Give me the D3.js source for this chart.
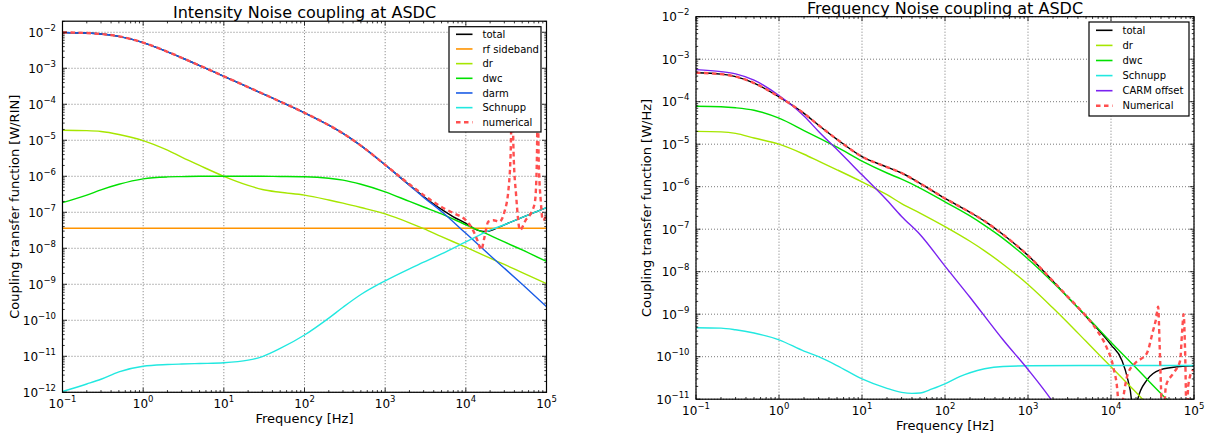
<!DOCTYPE html>
<html>
<head>
<meta charset="utf-8">
<script src="https://cdnjs.cloudflare.com/ajax/libs/d3/7.8.5/d3.min.js"></script>
<style>
body{margin:0;background:#fff;}
svg{display:block;font-family:"DejaVu Sans",sans-serif;}
</style>
</head>
<body>
<svg width="1212" height="440"></svg>
<script>
// shared frequency grid [Hz]
var freq = [0.1,0.2,0.3,0.5,1,2,3,5,10,20,30,50,100,200,300,500,1e3,2e3,3e3,5e3,1e4,2e4,3e4,5e4,1e5];

// ---- Intensity noise coupling [W/RIN]
var intRfFreq = [0.1, 1e5];
var intRf = [3.6e-8, 3.6e-8];
var intDr = [1.9e-5,1.85e-5,1.75e-5,1.45e-5,9.8e-6,5.3e-6,3.4e-6,2.0e-6,1.0e-6,5.6e-7,4.3e-7,3.6e-7,3.0e-7,2.2e-7,1.8e-7,1.36e-7,9e-8,5.1e-8,3.5e-8,2.1e-8,1.07e-8,5.3e-9,3.55e-9,2.1e-9,1.05e-9];
var intDwc = [1.85e-7,3.0e-7,4.2e-7,6.0e-7,8.5e-7,9.6e-7,9.8e-7,1e-6,1e-6,1e-6,1e-6,9.9e-7,9.7e-7,8.8e-7,7.8e-7,6.0e-7,3.7e-7,2.0e-7,1.4e-7,9e-8,4.5e-8,2.3e-8,1.5e-8,9e-9,4.3e-9];
var intDarm = [9.9e-3,9.5e-3,8.95e-3,7.7e-3,5.15e-3,2.87e-3,1.96e-3,1.19e-3,5.98e-4,3.0e-4,1.99e-4,1.19e-4,5.8e-5,2.63e-5,1.55e-5,7.1e-6,2.07e-6,5.6e-7,2.6e-7,1.05e-7,2.6e-8,6.3e-9,2.8e-9,1.0e-9,2.4e-10];
var intSchnupp = [1.05e-12,1.7e-12,2.3e-12,3.7e-12,5.3e-12,5.9e-12,6.1e-12,6.3e-12,6.6e-12,7.8e-12,9.8e-12,1.65e-11,3.9e-11,1.15e-10,2.3e-10,5.2e-10,1.25e-9,2.7e-9,4.1e-9,7.0e-9,1.5e-8,3.2e-8,4.5e-8,7.2e-8,1.35e-7];
var intTotalFreq = [0.1,0.2,0.3,0.5,1,2,3,5,10,20,30,50,100,200,300,500,1e3,2e3,3e3,5e3,7e3,1e4,1.2e4,1.5e4,1.8e4,2.2e4,2.6e4,3e4,5e4,1e5];
var intTotal = [9.9e-3,9.5e-3,8.95e-3,7.7e-3,5.15e-3,2.87e-3,1.96e-3,1.19e-3,5.98e-4,3.0e-4,1.99e-4,1.19e-4,5.8e-5,2.63e-5,1.55e-5,7.1e-6,2.08e-6,5.7e-7,2.75e-7,1.2e-7,7.5e-8,4.9e-8,3.8e-8,3.05e-8,2.95e-8,3.3e-8,3.9e-8,4.5e-8,7.2e-8,1.35e-7];
var intNumFreq = [0.1,0.2,0.3,0.5,1,2,3,5,10,20,30,50,100,200,300,500,1e3,2e3,3e3,5e3,7e3,1e4,1.2e4,1.4e4,1.55e4,1.7e4,1.9e4,2.2e4,2.6e4,3e4,3.4e4,3.6e4,3.75e4,3.9e4,4.2e4,4.7e4,5.5e4,6.5e4,7.2e4,7.6e4,7.8e4,8e4,8.5e4,9e4,1e5];
var intNum = [9.9e-3,9.5e-3,8.95e-3,7.7e-3,5.15e-3,2.87e-3,1.96e-3,1.19e-3,5.98e-4,3.0e-4,1.99e-4,1.19e-4,5.8e-5,2.63e-5,1.55e-5,7.1e-6,2.08e-6,6.0e-7,3.0e-7,1.4e-7,9.5e-8,6e-8,3.5e-8,1.6e-8,9e-9,2e-8,5.5e-8,6e-8,5.5e-8,1e-7,5e-7,5e-6,3e-4,5e-6,3e-7,3.2e-8,6e-8,1e-7,2e-7,3e-6,3e-4,3e-6,2e-7,6e-8,8e-8];

// ---- Frequency noise coupling [W/Hz]
var frqDr = [2.0e-5,1.95e-5,1.8e-5,1.4e-5,1.0e-5,5.8e-6,4.0e-6,2.5e-6,1.3e-6,6.5e-7,4.0e-7,2.4e-7,1.15e-7,5.2e-8,3.1e-8,1.5e-8,5.0e-9,1.4e-9,6.4e-10,2.3e-10,5.8e-11,1.45e-11,6.4e-12,2.3e-12,5.8e-13];
var frqDwc = [7.8e-5,7.6e-5,7.2e-5,6.3e-5,4.1e-5,2.1e-5,1.4e-5,8.5e-6,4.0e-6,2.1e-6,1.5e-6,9.3e-7,4.4e-7,2.05e-7,1.23e-7,6.1e-8,2.0e-8,5.6e-9,2.55e-9,9.2e-10,2.2e-10,5.5e-11,2.4e-11,8.7e-12,2.2e-12];
var frqSchnuppFreq = [0.1,0.2,0.3,0.5,1,2,3,5,10,20,30,40,50,70,100,150,200,300,500,1e3,1e4,1e5];
var frqSchnupp = [4.8e-10,4.7e-10,4.3e-10,3.6e-10,2.5e-10,1.35e-10,1.0e-10,6.2e-11,3.0e-11,1.8e-11,1.45e-11,1.37e-11,1.4e-11,1.75e-11,2.3e-11,3.4e-11,4.2e-11,5.2e-11,5.9e-11,6.1e-11,6.2e-11,6.2e-11];
var frqCarm = [5.7e-4,5.1e-4,4.5e-4,3.2e-4,1.4e-4,4.6e-5,2.0e-5,7.5e-6,1.9e-6,4.8e-7,2.0e-7,7.5e-8,1.35e-8,2.5e-9,9e-10,2.5e-10,5e-11,8.5e-12,2.5e-12,null,null,null,null,null,null];
var frqTotalFreq = [0.1,0.2,0.3,0.5,1,2,3,5,10,20,30,50,100,200,300,500,1e3,2e3,3e3,5e3,1e4,1.35e4,1.6e4,1.76e4,1.9e4,2.1e4,2.7e4,3.9e4,6.8e4,1e5];
var frqTotal = [4.8e-4,4.45e-4,3.9e-4,2.75e-4,1.3e-4,5.3e-5,2.8e-5,1.3e-5,5.1e-6,2.9e-6,2.1e-6,1.2e-6,5.3e-7,2.5e-7,1.55e-7,7.5e-8,2.4e-8,6.0e-9,2.55e-9,8.8e-10,1.9e-10,8.3e-11,2.8e-11,1e-11,1e-13,1e-11,2.8e-11,4.9e-11,5.9e-11,6.1e-11];
var frqNumFreq = [0.1,0.2,0.3,0.5,1,2,3,5,10,20,30,50,100,200,300,500,1e3,2e3,3e3,5e3,7e3,8.8e3,1.07e4,1.2e4,1.28e4,1.4e4,1.6e4,1.95e4,2.7e4,3.2e4,3.5e4,3.7e4,3.85e4,4e4,4.2e4,4.6e4,5.6e4,6.8e4,7.2e4,7.5e4,7.8e4,8.2e4,8.5e4,9.5e4,1e5];
var frqNum = [4.8e-4,4.45e-4,3.9e-4,2.75e-4,1.3e-4,5.3e-5,2.8e-5,1.3e-5,5.1e-6,2.9e-6,2.1e-6,1.2e-6,5.3e-7,2.5e-7,1.55e-7,7.5e-8,2.4e-8,6.0e-9,2.6e-9,9e-10,3.8e-10,1.7e-10,5.5e-11,1.4e-11,2e-12,1e-11,4e-11,7e-11,1.2e-10,4e-10,8e-10,1.5e-9,2e-10,2e-11,2e-12,2.1e-11,4e-11,8e-11,4e-10,1.0e-9,1.5e-10,2e-12,2e-11,4.6e-11,5e-11];

var xTickExp = [-1,0,1,2,3,4,5];

var svg = d3.select('svg');

var intensityPanel = {
	id: 'int',
	left: 62.5, right: 546.5, top: 21.2, bottom: 392.3,
	ydom: [1e-12, 2.03e-2],
	title: 'Intensity Noise coupling at ASDC', titleY: 18.3,
	ylabel: 'Coupling transfer function [W/RIN]', ylabelX: 19,
	legend: {x: 449, y: 26.7, w: 92, h: 105.3, row0: 34.3, step: 14.67},
	series: [
		{label: 'total', color: '#000000', f: intTotalFreq, v: intTotal},
		{label: 'rf sideband', color: '#ff9400', f: intRfFreq, v: intRf},
		{label: 'dr', color: '#a6e600', f: freq, v: intDr},
		{label: 'dwc', color: '#00e000', f: freq, v: intDwc},
		{label: 'darm', color: '#1a5ce6', f: freq, v: intDarm},
		{label: 'Schnupp', color: '#22e8e0', f: freq, v: intSchnupp},
		{label: 'numerical', color: '#ff4f4f', f: intNumFreq, v: intNum, dash: true}
	]
};

var frequencyPanel = {
	id: 'frq',
	left: 696, right: 1194, top: 16.7, bottom: 399.2,
	ydom: [1e-11, 1e-2],
	title: 'Frequency Noise coupling at ASDC', titleY: 14.2,
	ylabel: 'Coupling transfer function [W/Hz]', ylabelX: 650.5,
	legend: {x: 1089, y: 22, w: 100, h: 94, row0: 30.3, step: 15.1},
	series: [
		{label: 'total', color: '#000000', f: frqTotalFreq, v: frqTotal},
		{label: 'dr', color: '#a6e600', f: freq, v: frqDr},
		{label: 'dwc', color: '#00e000', f: freq, v: frqDwc},
		{label: 'Schnupp', color: '#22e8e0', f: frqSchnuppFreq, v: frqSchnupp},
		{label: 'CARM offset', color: '#7a22f0', f: freq, v: frqCarm},
		{label: 'Numerical', color: '#ff4f4f', f: frqNumFreq, v: frqNum, dash: true}
	]
};

function powLabel(sel, k){
	sel.append('tspan').text('10');
	sel.append('tspan').attr('dy', -6).attr('font-size', 8.5).text(k < 0 ? '\u2212' + (-k) : '' + k);
}

function drawPanel(p){
	var g = svg.append('g');
	var x = d3.scaleLog().domain([0.1, 1e5]).range([p.left, p.right]);
	var y = d3.scaleLog().domain(p.ydom).range([p.bottom, p.top]);

	var yLo = Math.ceil(Math.log10(p.ydom[0]) - 1e-9);
	var yHi = Math.floor(Math.log10(p.ydom[1]) + 1e-9);
	var yTickExp = d3.range(yLo, yHi + 1);

	// minor tick values
	var xMinor = [];
	xTickExp.slice(0, -1).forEach(k => { for(let m = 2; m < 10; m++) xMinor.push(m * Math.pow(10, k)); });
	var yMinor = [];
	d3.range(yLo - 1, yHi + 1).forEach(k => {
		for(let m = 2; m < 10; m++){
			let v = m * Math.pow(10, k);
			if(v > p.ydom[0] && v < p.ydom[1]) yMinor.push(v);
		}
	});

	// grid
	var grid = g.append('g').attr('stroke', '#000').attr('stroke-width', 0.7)
		.attr('stroke-dasharray', '1,2').attr('opacity', 0.75);
	xTickExp.forEach(k => {
		let xx = x(Math.pow(10, k));
		grid.append('line').attr('x1', xx).attr('x2', xx).attr('y1', p.top).attr('y2', p.bottom);
	});
	yTickExp.forEach(k => {
		let yy = y(Math.pow(10, k));
		grid.append('line').attr('x1', p.left).attr('x2', p.right).attr('y1', yy).attr('y2', yy);
	});

	// curves
	svg.append('clipPath').attr('id', 'clip-' + p.id).append('rect')
		.attr('x', p.left).attr('y', p.top).attr('width', p.right - p.left).attr('height', p.bottom - p.top);
	var plot = g.append('g').attr('clip-path', 'url(#clip-' + p.id + ')');
	var line = d3.line()
		.defined(d => d[1] != null)
		.x(d => x(d[0])).y(d => y(d[1]))
		.curve(d3.curveMonotoneX);
	p.series.forEach(s => {
		var pts = s.f.map((f, i) => [f, s.v[i]]);
		plot.append('path').attr('d', line(pts))
			.attr('fill', 'none').attr('stroke', s.color)
			.attr('stroke-width', s.dash ? 2.4 : 1.4)
			.attr('stroke-dasharray', s.dash ? '4.5,3.5' : null)
			.attr('stroke-linejoin', 'round');
	});

	// ticks (inward, all four sides)
	var ticks = g.append('g').attr('stroke', '#000').attr('stroke-width', 0.8);
	xTickExp.forEach(k => {
		let xx = x(Math.pow(10, k));
		ticks.append('line').attr('x1', xx).attr('x2', xx).attr('y1', p.bottom).attr('y2', p.bottom - 4.5);
		ticks.append('line').attr('x1', xx).attr('x2', xx).attr('y1', p.top).attr('y2', p.top + 4.5);
	});
	xMinor.forEach(v => {
		let xx = x(v);
		ticks.append('line').attr('x1', xx).attr('x2', xx).attr('y1', p.bottom).attr('y2', p.bottom - 2.2);
		ticks.append('line').attr('x1', xx).attr('x2', xx).attr('y1', p.top).attr('y2', p.top + 2.2);
	});
	yTickExp.forEach(k => {
		let yy = y(Math.pow(10, k));
		ticks.append('line').attr('x1', p.left).attr('x2', p.left + 4.5).attr('y1', yy).attr('y2', yy);
		ticks.append('line').attr('x1', p.right).attr('x2', p.right - 4.5).attr('y1', yy).attr('y2', yy);
	});
	yMinor.forEach(v => {
		let yy = y(v);
		ticks.append('line').attr('x1', p.left).attr('x2', p.left + 2.2).attr('y1', yy).attr('y2', yy);
		ticks.append('line').attr('x1', p.right).attr('x2', p.right - 2.2).attr('y1', yy).attr('y2', yy);
	});

	// frame
	g.append('rect').attr('x', p.left).attr('y', p.top)
		.attr('width', p.right - p.left).attr('height', p.bottom - p.top)
		.attr('fill', 'none').attr('stroke', '#000').attr('stroke-width', 1.2);

	// tick labels
	xTickExp.forEach(k => {
		let t = g.append('text').attr('x', x(Math.pow(10, k))).attr('y', p.bottom + 15.5)
			.attr('text-anchor', 'middle').attr('font-size', 12).attr('fill', '#000');
		powLabel(t, k);
	});
	yTickExp.forEach(k => {
		let t = g.append('text').attr('x', p.left - 6.5).attr('y', y(Math.pow(10, k)) + 4.5)
			.attr('text-anchor', 'end').attr('font-size', 12).attr('fill', '#000');
		powLabel(t, k);
	});

	// titles and axis labels
	var cx = (p.left + p.right) / 2;
	g.append('text').attr('x', cx).attr('y', p.titleY).attr('text-anchor', 'middle')
		.attr('font-size', 16).text(p.title);
	g.append('text').attr('x', cx).attr('y', p.bottom + 30.5).attr('text-anchor', 'middle')
		.attr('font-size', 13).text('Frequency [Hz]');
	g.append('text').attr('transform', 'translate(' + p.ylabelX + ',' + ((p.top + p.bottom) / 2) + ') rotate(-90)')
		.attr('text-anchor', 'middle').attr('font-size', 13).text(p.ylabel);

	// legend
	var L = p.legend;
	var lg = g.append('g');
	lg.append('rect').attr('x', L.x).attr('y', L.y).attr('width', L.w).attr('height', L.h)
		.attr('fill', '#fff').attr('stroke', '#000').attr('stroke-width', 1.2);
	p.series.forEach((s, i) => {
		let ry = L.row0 + i * L.step;
		lg.append('line').attr('x1', L.x + 7).attr('x2', L.x + 23.5).attr('y1', ry).attr('y2', ry)
			.attr('stroke', s.color).attr('stroke-width', s.dash ? 2.4 : 1.6)
			.attr('stroke-dasharray', s.dash ? '4.5,3.5' : null);
		lg.append('text').attr('x', L.x + 33.5).attr('y', ry + 3.6).attr('font-size', 10).text(s.label);
	});
}

drawPanel(intensityPanel);
drawPanel(frequencyPanel);
</script>
</body>
</html>
